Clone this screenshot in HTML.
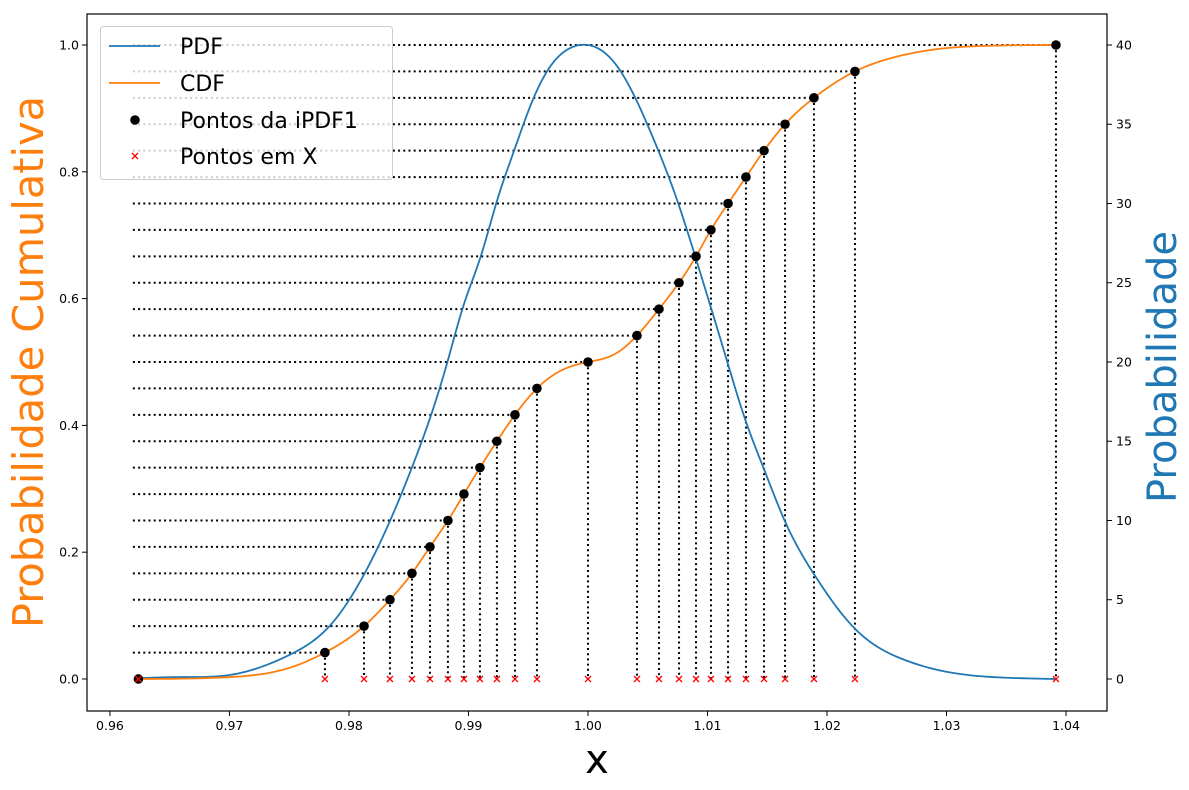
<!DOCTYPE html>
<html><head><meta charset="utf-8"><style>
html,body{margin:0;padding:0;background:#fff;}
svg{display:block;font-family:"DejaVu Sans","Liberation Sans",sans-serif;}
</style></head><body>
<svg id="chart" width="1189" height="790" viewBox="0 0 1189 790" xmlns="http://www.w3.org/2000/svg">
<rect x="0" y="0" width="1189" height="790" fill="#fff"/>
<g id="plot"></g>
<g id="axes"></g>
<g id="legend"></g>
</svg>
<script>
const xTicks = [0.96,0.97,0.98,0.99,1.00,1.01,1.02,1.03,1.04];
const xTickLabels = ["0.96","0.97","0.98","0.99","1.00","1.01","1.02","1.03","1.04"];
const yLeftTicks = [0,0.2,0.4,0.6,0.8,1.0];
const yLeftLabels = ["0.0","0.2","0.4","0.6","0.8","1.0"];
const yRightTicks = [0,5,10,15,20,25,30,35,40];
const yRightLabels = ["0","5","10","15","20","25","30","35","40"];
const pdfX = [0.9622,0.966,0.970,0.975,0.9784,0.9812,0.9834,0.9854,0.9868,0.9882,0.9896,0.9910,0.9924,0.9938,0.9952,0.9968,0.9988,1.0,1.0025,1.0053,1.0076,1.0090,1.0117,1.0131,1.0148,1.0165,1.0190,1.0223,1.0263,1.0304,1.0350,1.0392];
const pdfY = [0.05,0.12,0.25,1.51,3.36,6.51,9.92,13.6,16.5,19.9,23.6,26.6,30.2,33.3,36.2,38.6,39.9,40,38.6,34.4,29.9,26.6,19.9,16.5,13.1,9.92,6.51,3.2,1.26,0.4,0.08,0.0];
const ptX = [0.96238,0.97799,0.98126,0.98343,0.98527,0.98678,0.98828,0.98962,0.99096,0.99238,0.99389,0.99573,1.0,1.0041,1.00594,1.00762,1.00904,1.01029,1.01172,1.01322,1.01473,1.01649,1.01891,1.02234,1.03916];
const ptY = [0,0.04167,0.08333,0.125,0.16667,0.20833,0.25,0.29167,0.33333,0.375,0.41667,0.45833,0.5,0.54167,0.58333,0.625,0.66667,0.70833,0.75,0.79167,0.83333,0.875,0.91667,0.95833,1.0];
const cdfX = [0.96238,0.9700,0.9751,0.97799,0.98126,0.98343,0.98527,0.98678,0.98828,0.98962,0.99096,0.99238,0.99389,0.99573,0.9975,1.0,1.0022,1.0041,1.00594,1.00762,1.00904,1.01029,1.01172,1.01322,1.01473,1.01649,1.01891,1.02234,1.0255,1.0290,1.0340,1.03916];
const cdfY = [0,0.003,0.018,0.04167,0.08333,0.125,0.16667,0.20833,0.25,0.29167,0.33333,0.375,0.41667,0.45833,0.484,0.5,0.512,0.54167,0.58333,0.625,0.66667,0.70833,0.75,0.79167,0.83333,0.875,0.91667,0.95833,0.980,0.993,0.999,1.0];
const hLineStart = 0.96192;

const NS="http://www.w3.org/2000/svg";
const L=87,R=1107,T=14,B=711;
const xMin=0.95808,xMax=1.04343;
const yMin=-0.0505,yMax=1.0489;
const sx=v=>L+(v-xMin)/(xMax-xMin)*(R-L);
const sy=v=>B-(v-yMin)/(yMax-yMin)*(B-T);
const sy2=v=>sy(v/40);
function mk(tag,attrs,parent){const e=document.createElementNS(NS,tag);for(const k in attrs)e.setAttribute(k,attrs[k]);parent.appendChild(e);return e;}
// natural cubic spline sampled densely
function curve(xs,ys,fy){
  const n=xs.length,h=[],a=new Array(n).fill(0),b=new Array(n).fill(0),c=new Array(n).fill(0),r=new Array(n).fill(0);
  for(let i=0;i<n-1;i++)h.push(xs[i+1]-xs[i]);
  b[0]=1;b[n-1]=1;
  for(let i=1;i<n-1;i++){a[i]=h[i-1];b[i]=2*(h[i-1]+h[i]);c[i]=h[i];r[i]=6*((ys[i+1]-ys[i])/h[i]-(ys[i]-ys[i-1])/h[i-1]);}
  for(let i=1;i<n;i++){const w=a[i]/b[i-1];b[i]-=w*c[i-1];r[i]-=w*r[i-1];}
  const M=new Array(n);M[n-1]=r[n-1]/b[n-1];
  for(let i=n-2;i>=0;i--)M[i]=(r[i]-c[i]*M[i+1])/b[i];
  let p="";
  for(let i=0;i<n-1;i++){
    const steps=14;
    for(let s=(i===0?0:1);s<=steps;s++){
      const t=s/steps*h[i],A=h[i]-t;
      const y=M[i]*A*A*A/(6*h[i])+M[i+1]*t*t*t/(6*h[i])+(ys[i]/h[i]-M[i]*h[i]/6)*A+(ys[i+1]/h[i]-M[i+1]*h[i]/6)*t;
      p+=(p?"L":"M")+sx(xs[i]+t).toFixed(2)+","+fy(y).toFixed(2);
    }
  }
  return p;
}
const plot=document.getElementById('plot');
const axes=document.getElementById('axes');
const leg=document.getElementById('legend');

for(let i=1;i<ptX.length;i++){
  const h=mk('line',{x1:sx(hLineStart),y1:sy(ptY[i]),x2:sx(ptX[i]),y2:sy(ptY[i]),stroke:'#000','stroke-width':2,'stroke-dasharray':'2,3.2'},plot);
  
  
  const v=mk('line',{x1:sx(ptX[i]),y1:sy(ptY[i]),x2:sx(ptX[i]),y2:sy(0),stroke:'#000','stroke-width':2,'stroke-dasharray':'2,3.2'},plot);
  
  
}
const pdf=mk('path',{d:curve(pdfX,pdfY,sy2),fill:'none',stroke:'#1f77b4','stroke-width':1.8},plot);


const cdf=mk('path',{d:curve(cdfX,cdfY,sy),fill:'none',stroke:'#ff7f0e','stroke-width':1.8},plot);


for(let i=0;i<ptX.length;i++){
  const c=mk('circle',{cx:sx(ptX[i]),cy:sy(ptY[i]),r:4.8,fill:'#000'},plot);
  
  
  const X=sx(ptX[i]),Y=sy(0);
  const m=mk('path',{d:`M${X-3},${Y-3}L${X+3},${Y+3}M${X-3},${Y+3}L${X+3},${Y-3}`,stroke:'#ff0000','stroke-width':1.3},plot);
  
  
}
mk('rect',{x:L,y:T,width:R-L,height:B-T,fill:'none',stroke:'#000','stroke-width':1.2},axes);
xTicks.forEach((t,i)=>{
  const X=sx(t);
  mk('line',{x1:X,y1:B,x2:X,y2:B+5,stroke:'#000'},axes);
  const tx=mk('text',{x:X,y:B+19,'font-size':12.5,'text-anchor':'middle',fill:'#000'},axes);
  tx.textContent=xTickLabels[i];
  
  
});
yLeftTicks.forEach((t,i)=>{
  const Y=sy(t);
  mk('line',{x1:L-5,y1:Y,x2:L,y2:Y,stroke:'#000'},axes);
  const tx=mk('text',{x:L-8,y:Y+4.5,'font-size':12.5,'text-anchor':'end',fill:'#000'},axes);
  tx.textContent=yLeftLabels[i];
  
  
});
yRightTicks.forEach((t,i)=>{
  const Y=sy2(t);
  mk('line',{x1:R,y1:Y,x2:R+5,y2:Y,stroke:'#000'},axes);
  const tx=mk('text',{x:R+9,y:Y+4.5,'font-size':12.5,'text-anchor':'start',fill:'#000'},axes);
  tx.textContent=yRightLabels[i];
  
  
});
const xl=mk('text',{x:597,y:773,'font-size':40,'text-anchor':'middle',fill:'#000'},axes);
xl.textContent='x';


const yl=mk('text',{x:0,y:0,'font-size':41.5,'text-anchor':'middle',fill:'#ff7f0e',transform:'translate(43,362) rotate(-90)'},axes);
yl.textContent='Probabilidade Cumulativa';


const yr=mk('text',{x:0,y:0,'font-size':40,'text-anchor':'middle',fill:'#1f77b4',transform:'translate(1176,367) rotate(-90)'},axes);
yr.textContent='Probabilidade';



mk('rect',{x:100.5,y:26.5,width:292,height:153,rx:3,fill:'#fff','fill-opacity':0.8,stroke:'#ccc','stroke-width':1},leg);
const entries=[['PDF','line','#1f77b4',46],['CDF','line','#ff7f0e',83],['Pontos da iPDF1','dot','#000',120],['Pontos em X','x','#ff0000',156]];
entries.forEach(e=>{
  const g=mk('g',{},leg);
  
  
  if(e[1]==='line') mk('line',{x1:109,y1:e[3],x2:160,y2:e[3],stroke:e[2],'stroke-width':1.8},g);
  else if(e[1]==='dot') mk('circle',{cx:135,cy:e[3],r:4.8,fill:e[2]},g);
  else mk('path',{d:`M132,${e[3]-3}L138,${e[3]+3}M132,${e[3]+3}L138,${e[3]-3}`,stroke:e[2],'stroke-width':1.3},g);
  const t=mk('text',{x:180,y:e[3]+8,'font-size':22,fill:'#000'},g);
  t.textContent=e[0];
});
</script>
</body></html>
